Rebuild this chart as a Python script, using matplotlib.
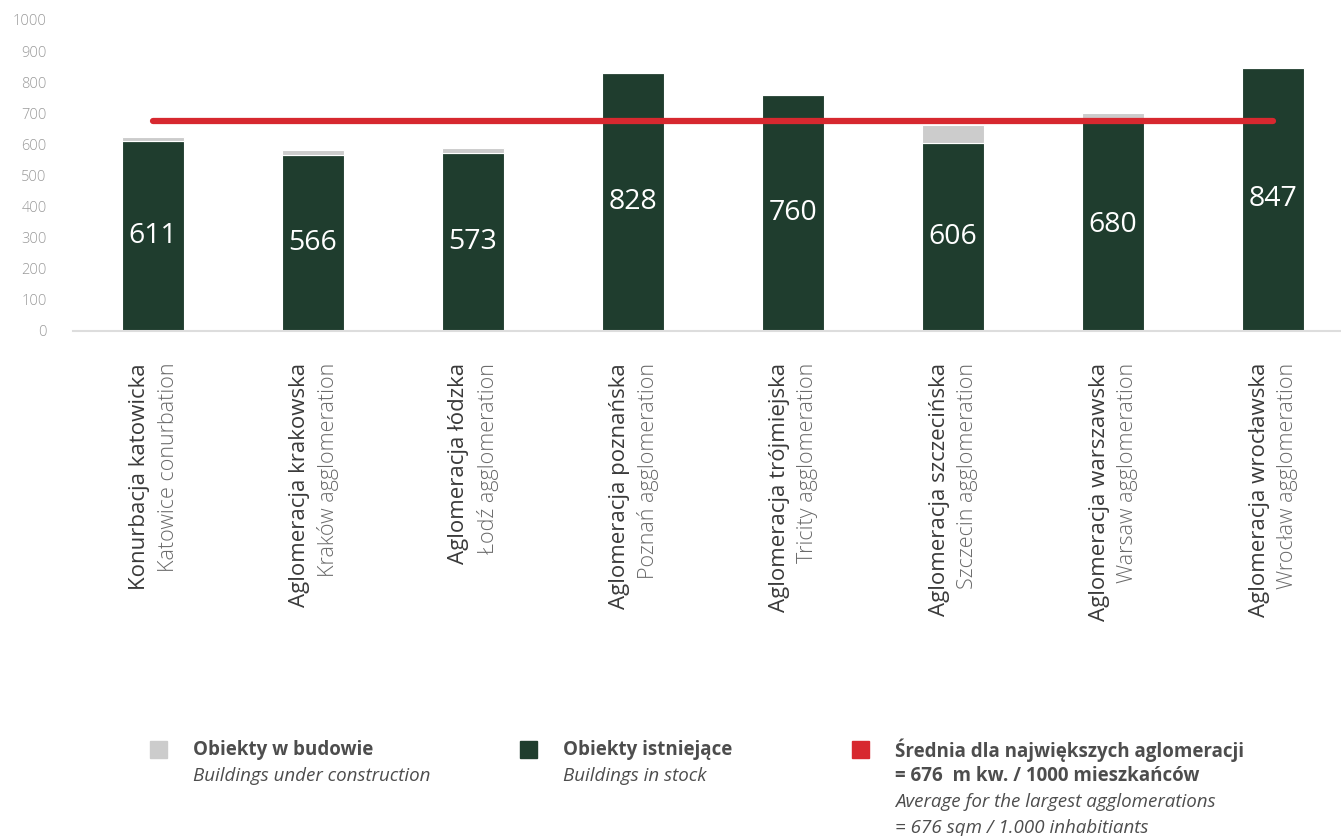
import matplotlib
matplotlib.use("Agg")
import matplotlib.pyplot as plt
from matplotlib.patches import Rectangle
import numpy as np

# Office space per 1000 inhabitants in the largest Polish agglomerations
names_pl = ["Konurbacja katowicka", "Aglomeracja krakowska", "Aglomeracja łódzka",
            "Aglomeracja poznańska", "Aglomeracja trójmiejska", "Aglomeracja szczecińska",
            "Aglomeracja warszawska", "Aglomeracja wrocławska"]
names_en = ["Katowice conurbation", "Kraków agglomeration", "Łodź agglomeration",
            "Poznań agglomeration", "Tricity agglomeration", "Szczecin agglomeration",
            "Warsaw agglomeration", "Wrocław agglomeration"]
in_stock = [611, 566, 573, 828, 760, 606, 680, 847]
under_construction = [14, 15, 15, 0, 0, 56, 20, 0]
average = 676
yticks = [0, 100, 200, 300, 400, 500, 600, 700, 800, 900, 1000]

GREEN = "#1f3d2e"
GREY = "#cccccc"
RED = "#d7282f"
FONT = "Open Sans"

W, H = 1341, 836
fig = plt.figure(figsize=(W / 100, H / 100), dpi=100)
ax = fig.add_axes([73 / W, 1 - 331 / H, (W - 73) / W, (331 - 20) / H])

x = np.arange(len(in_stock))
ax.bar(x, in_stock, width=0.39, color=GREEN, edgecolor="white", linewidth=0.8, zorder=2)
ax.bar(x, under_construction, bottom=in_stock, width=0.39, color=GREY,
       edgecolor="white", linewidth=0.8, zorder=2)
ax.plot([x[0], x[-1]], [average, average], color=RED, lw=4.5,
        solid_capstyle="round", zorder=3)

for xi, v in zip(x, in_stock):
    ax.text(xi, v / 2, str(v), color="white", ha="center", va="center",
            fontsize=20.5, family=FONT, zorder=4)

ax.set_xlim(-0.5, -0.5 + (W - 73) / 160)
ax.set_ylim(0, 1000)
ax.set_yticks(yticks)
ax.set_yticklabels([str(t) for t in yticks], family=FONT, fontsize=10.5,
                   color="#9a9a9a", fontweight="light")
ax.tick_params(axis="y", length=0, pad=19)
ax.set_xticks([])
for s in ["left", "right", "top"]:
    ax.spines[s].set_visible(False)
ax.spines["bottom"].set_color("#dddddd")
ax.spines["bottom"].set_linewidth(1.5)

# two-line rotated category labels below the axis
for xi, pl, en in zip(x, names_pl, names_en):
    px = ax.transData.transform((xi, 0))[0] / W
    fig.text(px - 14 / W, 1 - 363 / H, pl, rotation=90, ha="center", va="top",
             fontsize=16, color="#3a3a3a", family=FONT)
    fig.text(px + 15 / W, 1 - 363 / H, en, rotation=90, ha="center", va="top",
             fontsize=15.5, color="#6a6a6a", family=FONT, fontweight="light")

# legend
legend_items = [
    (150, GREY, ["Obiekty w budowie"], ["Buildings under construction"]),
    (520, GREEN, ["Obiekty istniejące"], ["Buildings in stock"]),
    (852, RED, ["Średnia dla największych aglomeracji", "= 676  m kw. / 1000 mieszkańców"],
     ["Average for the largest agglomerations", "= 676 sqm / 1.000 inhabitiants"]),
]
for lx, col, bold_lines, ital_lines in legend_items:
    fig.patches.append(Rectangle((lx / W, 1 - 758 / H), 17 / W, 17 / H,
                                 transform=fig.transFigure, color=col))
    ly = 750
    for t in bold_lines:
        fig.text((lx + 43) / W, 1 - ly / H, t, ha="left", va="center", fontsize=13.5,
                 fontweight="bold", color="#4d4d4d", family=FONT)
        ly += 26
    for t in ital_lines:
        fig.text((lx + 43) / W, 1 - ly / H, t, ha="left", va="center", fontsize=13.5,
                 style="italic", color="#4d4d4d", family=FONT)
        ly += 26

fig.savefig("out.png", dpi=100)
